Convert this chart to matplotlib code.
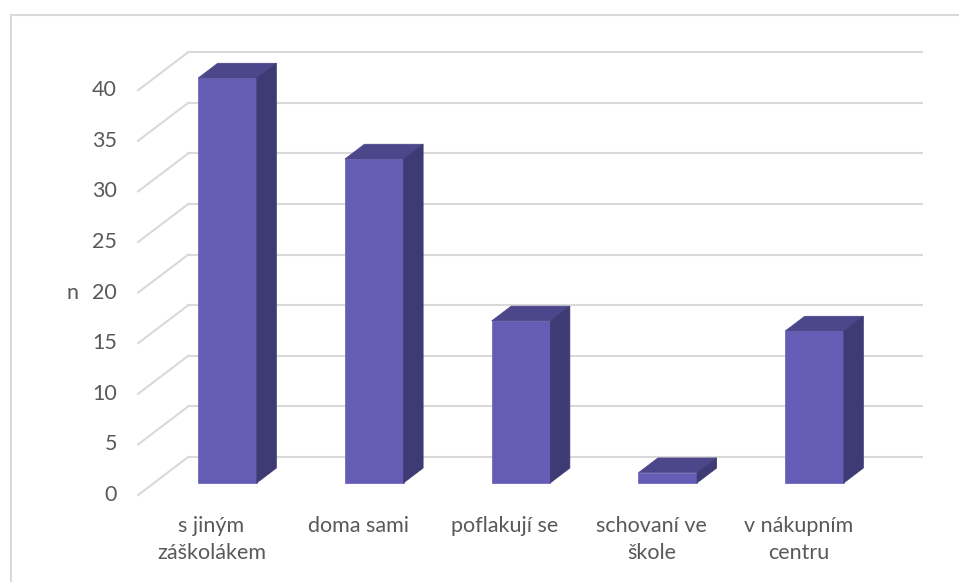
import matplotlib.pyplot as plt
from matplotlib.patches import Polygon
from matplotlib.lines import Line2D

# data
kategorie = ["s jiným\nzáškolákem", "doma sami", "poflakují se", "schovaní ve\nškole", "v nákupním\ncentru"]
hodnoty = [40, 32, 16, 1, 15]
yticks = [0, 5, 10, 15, 20, 25, 30, 35, 40]

# oblique 3d look: full depth offset of the floor (x in categories, y in values)
HL_DX = 0.341
HL_DY = 3.75
D0, D1 = 0.32, 0.71      # front / back of bars as fraction of depth
SIRKA = 0.40

c_front = "#655cb5"
c_top = "#4c468a"
c_side = "#3e3a73"
c_grid = "#d9d9d9"
c_text = "#595959"

plt.rcParams['font.family'] = ['Lato', 'DejaVu Sans']

fig = plt.figure(figsize=(9.59, 5.82), dpi=100)
ax = fig.add_axes([0, 0, 1, 1])
ax.set_xlim(-1.4412, 5.0937)
ax.set_ylim(-8.597, 48.913)
ax.axis('off')

n = len(hodnoty)
x_lo, x_hi = -0.5, n - 0.5

# back wall gridlines + left wall diagonals
for t in yticks:
    ax.plot([x_lo + HL_DX, x_hi + HL_DX], [t + HL_DY, t + HL_DY], color=c_grid, lw=1.5, zorder=1)
    ax.plot([x_lo, x_lo + HL_DX], [t, t + HL_DY], color=c_grid, lw=1.5, zorder=1)
    ax.text(-0.644, t, str(t), ha='right', va='center', fontsize=15.5, color=c_text)

ax.text(-0.95, 20, "n", ha='center', va='center', fontsize=15.5, color=c_text)

# bars
dx = HL_DX * (D1 - D0)
dy = HL_DY * (D1 - D0)
for i, v in enumerate(hodnoty):
    xl = i - SIRKA / 2 + HL_DX * D0
    xr = xl + SIRKA
    yb = HL_DY * D0
    yt = yb + v
    front = Polygon([(xl, yb), (xr, yb), (xr, yt), (xl, yt)], closed=True,
                    facecolor=c_front, edgecolor="#7169c0", lw=0.6, zorder=3)
    top = Polygon([(xl, yt), (xr, yt), (xr + dx, yt + dy), (xl + dx, yt + dy)], closed=True,
                  facecolor=c_top, edgecolor=c_top, lw=0.5, zorder=3)
    side = Polygon([(xr, yb), (xr, yt), (xr + dx, yt + dy), (xr + dx, yb + dy)], closed=True,
                   facecolor=c_side, edgecolor=c_side, lw=0.5, zorder=3)
    for p in (front, top, side):
        ax.add_patch(p)
    ax.text(i, -2.1, kategorie[i], ha='center', va='top', fontsize=15.5,
            color=c_text, linespacing=1.45)

# chart frame (cut off at right and bottom)
fig.add_artist(Line2D([11 / 959, 11 / 959], [0, 1 - 15 / 582], color=c_grid, lw=1.5))
fig.add_artist(Line2D([11 / 959, 1], [1 - 15 / 582, 1 - 15 / 582], color=c_grid, lw=1.5))

fig.savefig("out.png", dpi=100)
